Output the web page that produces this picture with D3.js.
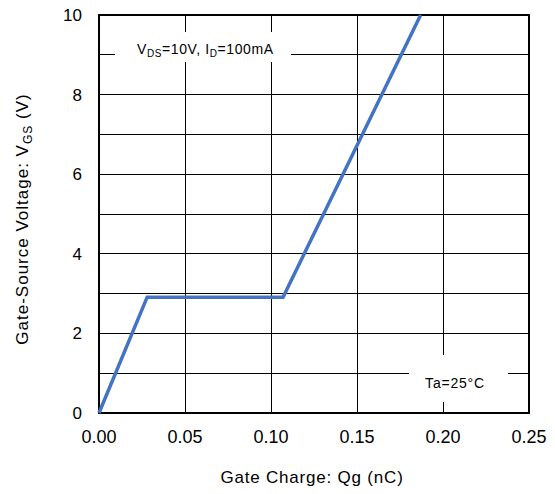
<!DOCTYPE html>
<html><head><meta charset="utf-8">
<script src="https://cdn.jsdelivr.net/npm/d3@7"></script>
<style>body{margin:0;background:#fff}svg{display:block}text{font-family:Arial,"Liberation Sans",sans-serif;fill:#000}</style>
</head><body>
<svg id="c" width="555" height="494"></svg>
<script>
const charge = [0, 0.028, 0.107, 0.187];
const vgs = [0, 2.91, 2.91, 10];
const xTicks = [0, 0.05, 0.10, 0.15, 0.20, 0.25];
const yTicks = [0, 2, 4, 6, 8, 10];
const yGrid = [1, 2, 3, 4, 5, 6, 7, 8, 9];
const xLabel = "Gate Charge: Qg (nC)";
const condText = ["V", "DS", "=10V, I", "D", "=100mA"];
const tempText = "Ta=25\u00B0C";

const svg = d3.select("#c");
const x = d3.scaleLinear().domain([0, 0.25]).range([99, 529]);
const y = d3.scaleLinear().domain([0, 10]).range([413, 15]);

const g = svg.append("g");
// grid
g.selectAll(".hg").data(yGrid).enter().append("line")
  .attr("x1", x(0)).attr("x2", x(0.25)).attr("y1", d => y(d)).attr("y2", d => y(d))
  .attr("stroke", "#000").attr("stroke-width", 1).attr("shape-rendering", "crispEdges");
g.selectAll(".vg").data(xTicks.slice(1, -1)).enter().append("line")
  .attr("x1", d => x(d)).attr("x2", d => x(d)).attr("y1", y(0)).attr("y2", y(10))
  .attr("stroke", "#000").attr("stroke-width", 1).attr("shape-rendering", "crispEdges");

// annotation boxes (white backgrounds interrupting grid)
g.append("rect").attr("x", 115).attr("y", 32).attr("width", 176).attr("height", 30).attr("fill", "#fff");
g.append("rect").attr("x", 409).attr("y", 355).attr("width", 99).attr("height", 47).attr("fill", "#fff");

// border
g.append("rect").attr("x", x(0)).attr("y", y(10)).attr("width", x(0.25) - x(0)).attr("height", y(0) - y(10))
  .attr("fill", "none").attr("stroke", "#000").attr("stroke-width", 2);

// curve
const pts = charge.map((c, i) => [c, vgs[i]]);
g.append("path").datum(pts)
  .attr("d", d3.line().x(d => x(d[0])).y(d => y(d[1])))
  .attr("fill", "none").attr("stroke", "#4472C4").attr("stroke-width", 3.5).attr("stroke-linejoin", "miter");

// axes ticks labels
g.selectAll(".xt").data(xTicks).enter().append("text")
  .attr("x", d => x(d)).attr("y", 443).attr("text-anchor", "middle").attr("font-size", 18)
  .text(d => d.toFixed(2));
g.selectAll(".yt").data(yTicks).enter().append("text")
  .attr("x", 82).attr("y", d => y(d) + 6).attr("text-anchor", "end").attr("font-size", 17)
  .text(d => d);

// axis titles
g.append("text").attr("x", 312).attr("y", 483).attr("text-anchor", "middle").attr("font-size", 17)
  .attr("letter-spacing", 0.8).text(xLabel);
const yl = g.append("text").attr("transform", "translate(28,219) rotate(-90)").attr("text-anchor", "middle")
  .attr("font-size", 17).attr("letter-spacing", 1);
yl.append("tspan").text("Gate-Source Voltage: V");
yl.append("tspan").attr("font-size", 12).attr("dy", 4).text("GS");
yl.append("tspan").attr("dy", -4).text(" (V)");

// condition text
const ct = g.append("text").attr("x", 137).attr("y", 54).attr("font-size", 14).attr("letter-spacing", 0.6);
condText.forEach((t, i) => {
  const sub = i % 2 === 1;
  ct.append("tspan").attr("font-size", sub ? 10 : 14).attr("dy", sub ? 3 : (i > 0 ? -3 : 0)).text(t);
});
g.append("text").attr("x", 455).attr("y", 388).attr("text-anchor", "middle").attr("font-size", 14)
  .attr("letter-spacing", 0.8).text(tempText);
</script>
</body></html>
